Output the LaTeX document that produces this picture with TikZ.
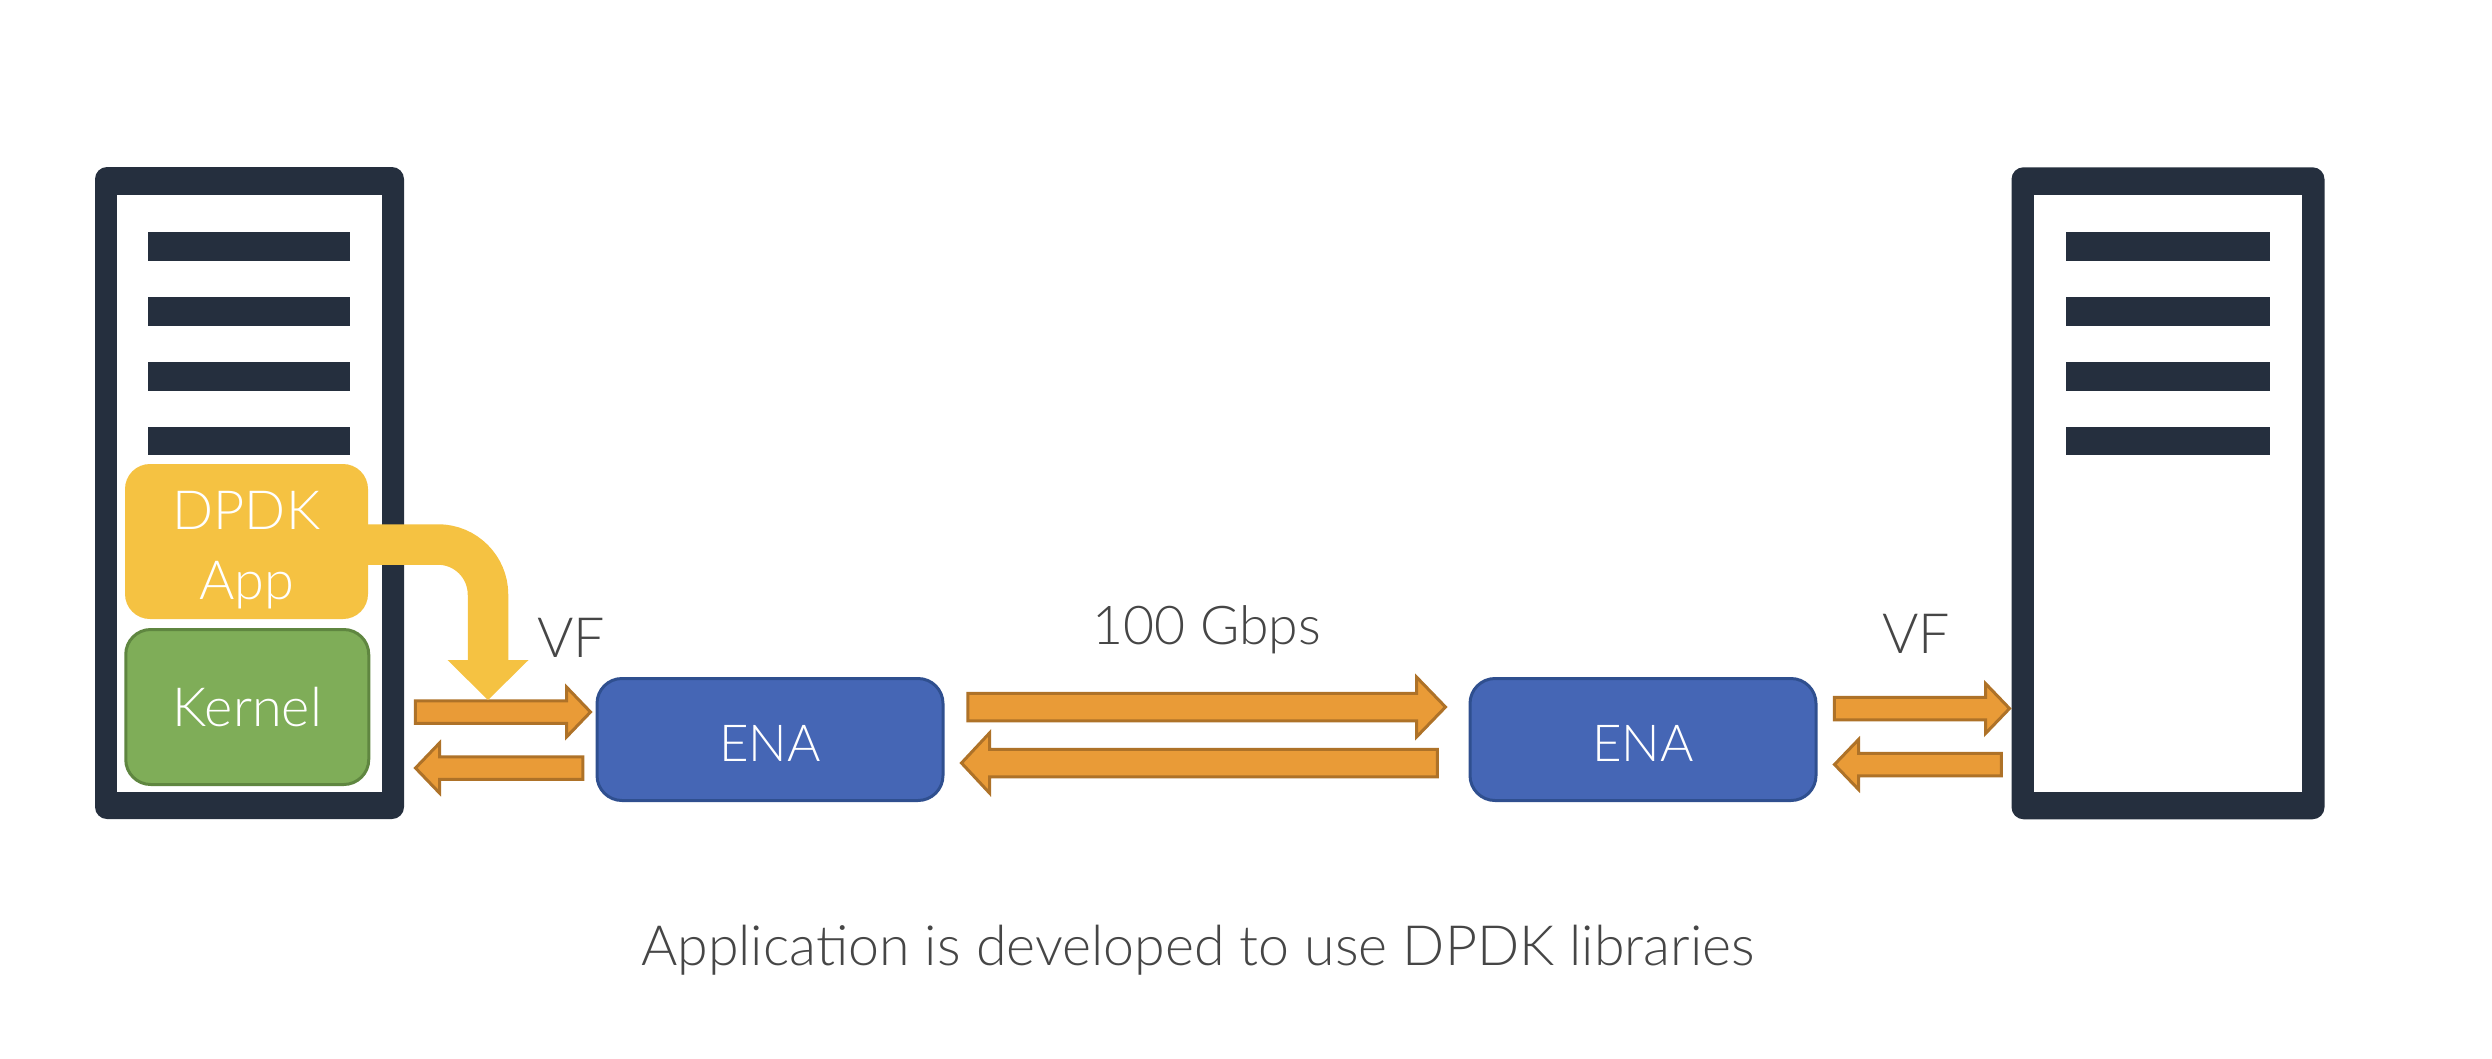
\documentclass[tikz,border=0pt]{standalone}
\usepackage{fontspec}
\setmainfont{Lato Light}
\usetikzlibrary{calc,arrows.meta}
\definecolor{serverink}{HTML}{252F3E}
\definecolor{labelgray}{HTML}{464646}
\definecolor{appyellow}{HTML}{F5C242}
\definecolor{kernelgreen}{HTML}{7FAD58}
\definecolor{kernelline}{HTML}{5F8640}
\definecolor{enablue}{HTML}{4566B5}
\definecolor{enaline}{HTML}{2F4F8F}
\definecolor{floworange}{HTML}{E99B37}
\definecolor{flowline}{HTML}{AE7228}
\tikzset{
  serverbody/.style={fill=serverink, rounded corners=12pt, inner sep=0pt, outer sep=0pt},
  serverface/.style={fill=white, inner sep=0pt, outer sep=0pt},
  serverbar/.style={fill=serverink, inner sep=0pt, outer sep=0pt, minimum height=28.5pt},
  appbox/.style={fill=appyellow, rounded corners=25pt, inner sep=0pt, minimum width=243pt, minimum height=155pt,
    text=white, align=center, font=\fontsize{54}{70}\selectfont},
  kernelbox/.style={draw=kernelline, line width=3pt, fill=kernelgreen, rounded corners=25pt, inner sep=0pt,
    minimum width=243pt, minimum height=155pt, text=white, font=\fontsize{54}{70}\selectfont},
  enabox/.style={draw=enaline, line width=3pt, fill=enablue, rounded corners=25pt, inner sep=0pt,
    minimum width=346pt, minimum height=122pt, text height=44pt, text=white, font=\fontsize{51}{60}\selectfont},
  plainlabel/.style={anchor=base, inner sep=0pt, text=labelgray, font=\fontsize{55.5}{70}\selectfont},
  % shaft half width / head half width / signed head length
  flowarrow/.style args={#1/#2/#3}{draw=flowline, fill=floworange, line width=3pt, miter limit=6,
    to path={($(\tikztostart)+(0,-#1)$) -- ($(\tikztotarget)+(-#3,-#1)$) -- ($(\tikztotarget)+(-#3,-#2)$)
      -- (\tikztotarget) -- ($(\tikztotarget)+(-#3,#2)$) -- ($(\tikztotarget)+(-#3,#1)$)
      -- ($(\tikztostart)+(0,#1)$) -- cycle}},
}
\begin{document}
\begin{tikzpicture}[x=1pt,y=-1pt]
    \useasboundingbox (0,0) rectangle (2492,1058);

    % Draw the two servers
    \node[serverbody, minimum width=309pt, minimum height=652pt] (hostL) at (249.5,493) {};
    \node[serverface, minimum width=264.5pt, minimum height=597pt] (faceL) at (249.25,493.5) {};
    \node[serverbody, minimum width=313pt, minimum height=652pt] (hostR) at (2168,493.25) {};
    \node[serverface, minimum width=268pt, minimum height=597pt] (faceR) at (2168,493.5) {};
    \foreach \n/\y in {1/246.5,2/311.5,3/376.5,4/441} {
        \node[serverbar, minimum width=202pt] (barL\n) at (249,\y) {};
        \node[serverbar, minimum width=204pt] (barR\n) at (2168,\y) {};
    }

    % Draw nodes inside and next to the servers
    \node[kernelbox] (kernel) at (247.25,707) {Kernel};
    \node[enabox] (enaL) at (770,739.5) {ENA};
    \node[enabox] (enaR) at (1643,739.5) {ENA};

    % Free ends of the orange arrows
    \coordinate (vfLtail) at (415.25,712);
    \coordinate (vfLtip) at (590.5,712);
    \coordinate (vfLback) at (582.75,768);
    \coordinate (vfLend) at (415.5,768);
    \coordinate (linkTail) at (967.75,707);
    \coordinate (linkTip) at (1445.5,707);
    \coordinate (linkBack) at (1437.25,763);
    \coordinate (linkEnd) at (961.5,763);
    \coordinate (vfRtail) at (1834.25,708.5);
    \coordinate (vfRtip) at (2009.5,708.5);
    \coordinate (vfRback) at (2001.25,764.5);
    \coordinate (vfRend) at (1834.5,764.5);
    \coordinate (appTip) at (488,700);

    % Draw edges
    \draw[flowarrow=11.25/25/24] (vfLtail) to (vfLtip);
    \draw[flowarrow=11.25/25/-24] (vfLback) to (vfLend);
    \draw[flowarrow=13.75/30/29] (linkTail) to (linkTip);
    \draw[flowarrow=13.75/30/-28] (linkBack) to (linkEnd);
    \draw[flowarrow=11.25/25/24] (vfRtail) to (vfRtip);
    \draw[flowarrow=11.25/25/-24] (vfRback) to (vfRend);

    \node[appbox] (app) at (246.5,541.5) {\rule{0pt}{56pt}DPDK\\App};
    \draw[appyellow, line width=40.5pt, rounded corners=50pt, -{Triangle[length=40pt,width=81pt,line width=0pt]}]
        ([yshift=-3pt]app.east) -| (appTip);

    % Draw labels
    \node[plainlabel] (vfL) at (571,657) {VF};
    \node[plainlabel] (vfR) at (1916,653) {VF};
    \node[plainlabel, font=\fontsize{53.5}{70}\selectfont] (speed) at (1207,644) {100 Gbps};
    \node[plainlabel] (caption) at (1198,965) {Application is developed to use DPDK libraries};
\end{tikzpicture}
\end{document}
